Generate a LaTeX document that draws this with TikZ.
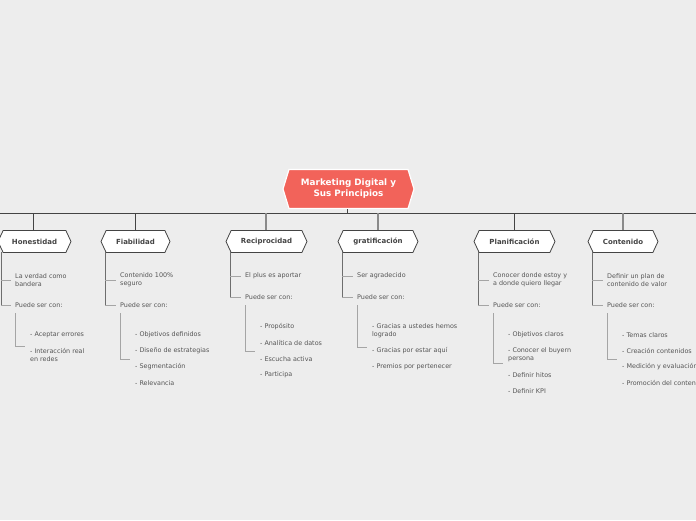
\documentclass[tikz,border=0pt]{standalone}
\usepackage{fontspec}
\setmainfont{DejaVu Sans}
\usetikzlibrary{shapes.symbols}
\definecolor{bg}{HTML}{EDEDED}
\definecolor{rootred}{HTML}{F2635A}
\definecolor{dk}{HTML}{444444}
\definecolor{md}{HTML}{8A8A8A}
\definecolor{lt}{HTML}{A5A5A5}
\definecolor{txt}{HTML}{555555}
\tikzset{
  hexbox/.style={signal, signal to=east and west, draw=dk, line width=0.8pt, fill=white,
    minimum height=22pt, inner sep=0pt, signal pointer angle=130,
    font=\fontsize{7}{8}\selectfont\bfseries, text=dk},
  rootbox/.style={signal, signal to=east and west, draw=white, line width=1.2pt, fill=rootred,
    minimum height=39pt, inner sep=0pt, signal pointer angle=146, align=center,
    font=\fontsize{8.8}{11}\selectfont\bfseries, text=white},
  item/.style={anchor=west, inner sep=0pt, align=left, text=txt,
    font=\fontsize{6.4}{8}\selectfont},
  stemdk/.style={draw=dk, line width=0.8pt},
  stemmd/.style={draw=md, line width=1.4pt},
  trunk/.style={draw=md!80!black, line width=0.7pt},
  twig/.style={draw=lt, line width=0.7pt, shorten >=4pt},
  subtwig/.style={draw=lt, line width=0.7pt},
}
\begin{document}
\begin{tikzpicture}[x=1pt,y=-1pt]
\useasboundingbox (0,0) rectangle (696,520);
\fill[bg] (0,0) rectangle (696,520);
\clip (0,0) rectangle (696,520);

% root
\node[rootbox, minimum width=131pt] (root) at (348.5,189) {Marketing Digital y\\Sus Principios};
\coordinate (hl) at (0,213);
\coordinate (hr) at (696,213);
\draw[dk, line width=0.8pt] (hl) -- (hr);
\coordinate (rootfoot) at (347,213);
\draw[dk, line width=1pt] (root.south -| rootfoot) -- (rootfoot);

% children
\node[hexbox, minimum width=73pt] (hon) at (34.5,241.5) {Honestidad};
\node[hexbox, minimum width=69pt] (fia) at (135.5,241.5) {Fiabilidad};
\node[hexbox, minimum width=81pt] (rec) at (266.5,241.5) {Reciprocidad};
\node[hexbox, minimum width=80pt] (gra) at (378,241.5) {gratificación};
\node[hexbox, minimum width=81pt] (pla) at (514.5,241.5) {Planificación};
\node[hexbox, minimum width=70pt] (con) at (623,241.5) {Contenido};

\coordinate (shon) at (33,213);  \draw[stemdk] (shon) -- (shon |- hon.north);
\coordinate (sfia) at (135,213); \draw[stemdk] (sfia) -- (sfia |- fia.north);
\coordinate (srec) at (266,213); \draw[stemmd] (srec) -- (srec |- rec.north);
\coordinate (sgra) at (378,213); \draw[stemmd] (sgra) -- (sgra |- gra.north);
\coordinate (spla) at (514,213); \draw[stemdk] (spla) -- (spla |- pla.north);
\coordinate (scon) at (623,213); \draw[stemmd] (scon) -- (scon |- con.north);

% ---------- Honestidad
\node[item] (hon1) at (15,280) {La verdad como\\bandera};
\node[item] (hon2) at (15,305) {Puede ser con:};
\coordinate (honv) at (1,252);
\draw[trunk] (honv) -- (1,305);
\draw[twig] (1,280) -- (hon1.west);
\draw[twig] (1,305) -- (hon2.west);
\node[item] (hona) at (30,335) {- Aceptar errores};
\node[item] (honb) at (30,355) {- Interacción real\\en redes};
\coordinate (honsub) at (15,346);
\draw[subtwig] (15,313) -- (honsub) -- (25,346);

% ---------- Fiabilidad
\node[item] (fia1) at (120,280) {Contenido 100\%\\seguro};
\node[item] (fia2) at (120,305) {Puede ser con:};
\draw[trunk] (105,252) -- (105,305);
\draw[twig] (105,280) -- (fia1.west);
\draw[twig] (105,305) -- (fia2.west);
\node[item] (fiaa) at (135,335) {- Objetivos definidos};
\node[item] (fiab) at (135,351) {- Diseño de estrategias};
\node[item] (fiac) at (135,367) {- Segmentación};
\node[item] (fiad) at (135,383) {- Relevancia};
\coordinate (fiasub) at (120,359);
\draw[subtwig] (120,313) -- (fiasub) -- (130,359);

% ---------- Reciprocidad
\node[item] (rec1) at (245,276) {El plus es aportar};
\node[item] (rec2) at (245,297) {Puede ser con:};
\draw[trunk] (230,252) -- (230,297);
\draw[twig] (230,276) -- (rec1.west);
\draw[twig] (230,297) -- (rec2.west);
\node[item] (reca) at (260,327) {- Propósito};
\node[item] (recb) at (260,343) {- Analítica de datos};
\node[item] (recc) at (260,359) {- Escucha activa};
\node[item] (recd) at (260,375) {- Participa};
\coordinate (recsub) at (245,351);
\draw[subtwig] (245,305) -- (recsub) -- (255,351);

% ---------- gratificación
\node[item] (gra1) at (357,276) {Ser agradecido};
\node[item] (gra2) at (357,297) {Puede ser con:};
\draw[trunk] (342,252) -- (342,297);
\draw[twig] (342,276) -- (gra1.west);
\draw[twig] (342,297) -- (gra2.west);
\node[item] (graa) at (372,331) {- Gracias a ustedes hemos\\logrado};
\node[item] (grab) at (372,351) {- Gracias por estar aquí};
\node[item] (grac) at (372,367) {- Premios por pertenecer};
\coordinate (grasub) at (357,347);
\draw[subtwig] (357,305) -- (grasub) -- (367,347);

% ---------- Planificación
\node[item] (pla1) at (493,280) {Conocer donde estoy y\\a donde quiero llegar};
\node[item] (pla2) at (493,305) {Puede ser con:};
\draw[trunk] (478,252) -- (478,305);
\draw[twig] (478,280) -- (pla1.west);
\draw[twig] (478,305) -- (pla2.west);
\node[item] (plaa) at (508,335) {- Objetivos claros};
\node[item] (plab) at (508,355) {- Conocer el buyern\\persona};
\node[item] (plac) at (508,375) {- Definir hitos};
\node[item] (plad) at (508,391) {- Definir KPI};
\coordinate (plasub) at (493,363);
\draw[subtwig] (493,313) -- (plasub) -- (503,363);

% ---------- Contenido
\node[item] (con1) at (607,280) {Definir un plan de\\contenido de valor};
\node[item] (con2) at (607,305) {Puede ser con:};
\draw[trunk] (592,252) -- (592,305);
\draw[twig] (592,280) -- (con1.west);
\draw[twig] (592,305) -- (con2.west);
\node[item] (cona) at (622,335) {- Temas claros};
\node[item] (conb) at (622,351) {- Creación contenidos};
\node[item] (conc) at (622,367) {- Medición y evaluación};
\node[item] (cond) at (622,383) {- Promoción del contenido};
\coordinate (consub) at (607,359);
\draw[subtwig] (607,313) -- (consub) -- (617,359);
\end{tikzpicture}
\end{document}
